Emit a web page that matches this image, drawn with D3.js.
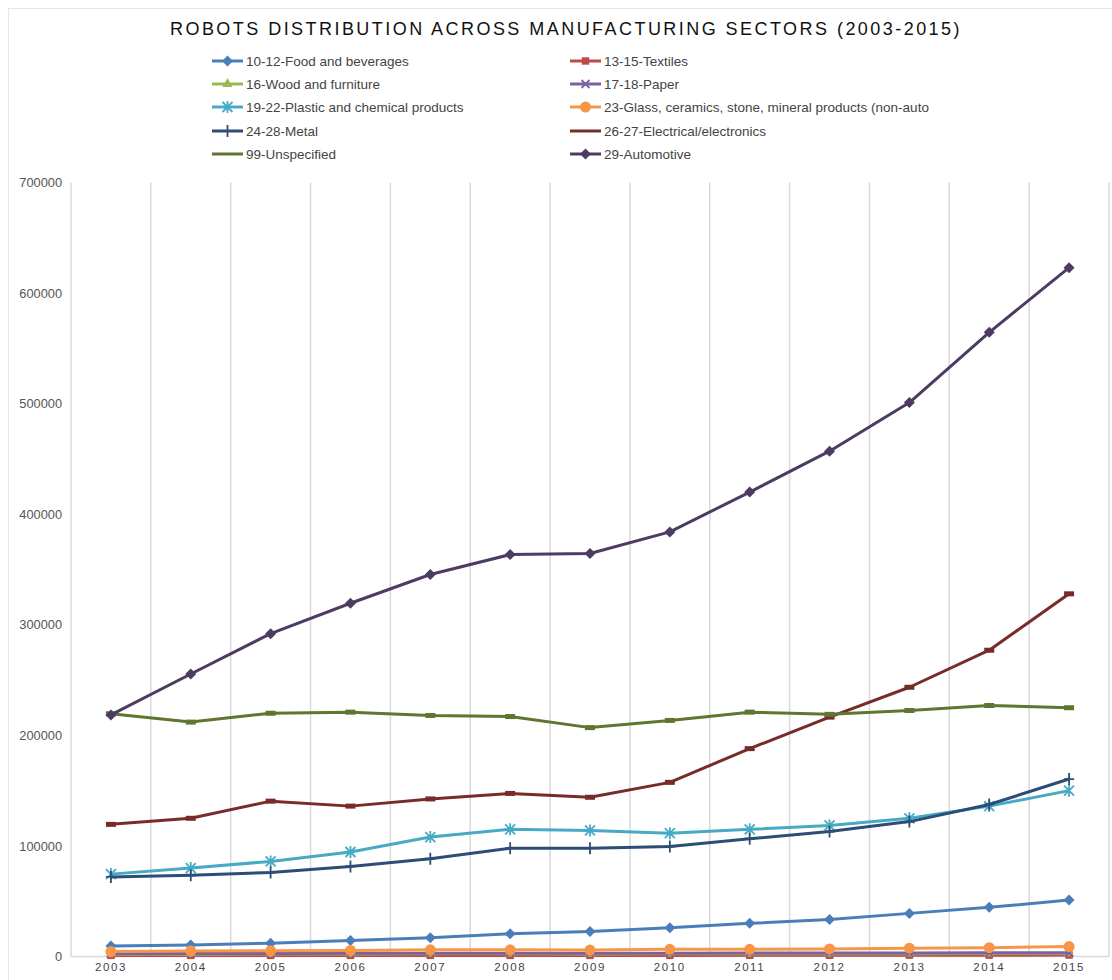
<!DOCTYPE html>
<html>
<head>
<meta charset="utf-8">
<script src="https://cdn.jsdelivr.net/npm/d3@7"></script>
<style>
  body { margin: 0; background: #fff; }
  svg { display: block; font-family: "Liberation Sans", Arial, sans-serif; }
</style>
</head>
<body>
<svg id="chart" width="1112" height="980"></svg>
<script>
const years = ['2003','2004','2005','2006','2007','2008','2009','2010','2011','2012','2013','2014','2015']
const yTicks = [0, 100000, 200000, 300000, 400000, 500000, 600000, 700000]

const food = [9500, 10500, 12000, 14500, 17000, 20500, 22500, 26000, 30000, 33500, 39000, 44500, 51000]
const textiles = [1000, 1000, 1000, 1000, 1000, 1000, 1000, 1000, 1100, 1100, 1200, 1200, 1300]
const wood = [2000, 2100, 2200, 2300, 2400, 2400, 2300, 2400, 2500, 2500, 2600, 2700, 2800]
const paper = [2600, 2700, 2800, 2900, 3000, 3000, 2900, 3000, 3100, 3100, 3200, 3300, 3400]
const plastic = [74500, 80000, 86000, 94500, 108000, 115000, 114000, 111500, 115000, 118500, 125000, 136000, 150000]
const glass = [4500, 5000, 5200, 5500, 6000, 6000, 5800, 6500, 6500, 6800, 7500, 8000, 9000]
const metal = [72000, 73500, 76000, 81500, 88500, 98000, 98000, 99500, 106500, 113000, 122000, 137500, 160500]
const electrical = [119500, 125000, 140500, 136000, 142500, 147500, 144000, 157500, 188000, 216500, 243500, 277000, 328000]
const unspecified = [219500, 212000, 220000, 221000, 218000, 217000, 207000, 213500, 221000, 219000, 222500, 227000, 225000]
const automotive = [218500, 255500, 292000, 319500, 345500, 363500, 364500, 384000, 420000, 457000, 501000, 564500, 623000]

const series = [
  { name: '10-12-Food and beverages', values: food, color: '#4a7ebb', marker: 'diamond' },
  { name: '13-15-Textiles', values: textiles, color: '#be4b48', marker: 'square' },
  { name: '16-Wood and furniture', values: wood, color: '#98b954', marker: 'triangle' },
  { name: '17-18-Paper', values: paper, color: '#7d60a0', marker: 'x' },
  { name: '19-22-Plastic and chemical products', values: plastic, color: '#46aac5', marker: 'star' },
  { name: '23-Glass, ceramics, stone, mineral products (non-auto', values: glass, color: '#f79646', marker: 'circle' },
  { name: '24-28-Metal', values: metal, color: '#2c4d75', marker: 'plus' },
  { name: '26-27-Electrical/electronics', values: electrical, color: '#772c2a', marker: 'dash' },
  { name: '99-Unspecified', values: unspecified, color: '#5f7530', marker: 'dash' },
  { name: '29-Automotive', values: automotive, color: '#4d3b62', marker: 'diamond' }
]

const svg = d3.select('#chart')
const plot = { left: 71, right: 1109, top: 182.5, bottom: 956.5 }

// outer frame
svg.append('rect')
  .attr('x', 8.5).attr('y', 8.5)
  .attr('width', 1110).attr('height', 980)
  .attr('fill', 'none').attr('stroke', '#e6e6e6')

const x = d3.scaleBand().domain(years).range([plot.left, plot.right])
const y = d3.scaleLinear().domain([0, 700000]).range([plot.bottom, plot.top])
const cx = d => x(d) + x.bandwidth() / 2

// title, spread to the reference width
const title = svg.append('text')
  .attr('x', 566).attr('y', 35)
  .attr('text-anchor', 'middle')
  .attr('font-size', 18).attr('fill', '#111')
  .text('ROBOTS DISTRIBUTION ACROSS MANUFACTURING SECTORS (2003-2015)')
const tl = title.node().getComputedTextLength()
const nChars = title.text().length
title.attr('letter-spacing', Math.max(0, (792 - tl) / nChars))

// vertical grid lines on category edges
const edges = years.map(d => x(d)).concat([plot.right])
svg.append('g').selectAll('line').data(edges).join('line')
  .attr('x1', d => d).attr('x2', d => d)
  .attr('y1', plot.top).attr('y2', plot.bottom)
  .attr('stroke', '#d9d9d9').attr('stroke-width', 1.5)

svg.append('line')
  .attr('x1', plot.left).attr('x2', plot.right)
  .attr('y1', plot.bottom).attr('y2', plot.bottom)
  .attr('stroke', '#d9d9d9').attr('stroke-width', 1.5)

// y axis labels
const yAxis = svg.append('g')
  .attr('transform', `translate(${plot.left},0)`)
  .call(d3.axisLeft(y).tickValues(yTicks).tickSize(0).tickPadding(9).tickFormat(d3.format('d')))
yAxis.select('.domain').remove()
yAxis.selectAll('text').attr('font-size', 12.8).attr('fill', '#555').attr('font-family', '"Liberation Sans", Arial, sans-serif')

// x axis labels
const xAxis = svg.append('g')
  .attr('transform', `translate(0,${plot.bottom})`)
  .call(d3.axisBottom(x).tickSize(0).tickPadding(6))
xAxis.select('.domain').remove()
xAxis.selectAll('text').attr('font-size', 11.5).attr('fill', '#444')
  .attr('letter-spacing', 1.6).attr('font-family', '"Liberation Sans", Arial, sans-serif')

function drawMarker(g, type, color) {
  if (type === 'diamond') {
    g.append('path').attr('d', 'M0,-5.5L5.5,0L0,5.5L-5.5,0Z').attr('fill', color)
  } else if (type === 'square') {
    g.append('path').attr('d', d3.symbol(d3.symbolSquare, 55)()).attr('fill', color)
  } else if (type === 'triangle') {
    g.append('path').attr('d', d3.symbol(d3.symbolTriangle, 45)()).attr('fill', color)
  } else if (type === 'circle') {
    g.append('circle').attr('r', 5.5).attr('fill', color)
  } else if (type === 'x') {
    g.append('path').attr('d', 'M-4,-4L4,4M-4,4L4,-4').attr('stroke', color).attr('stroke-width', 1.8)
  } else if (type === 'star') {
    g.append('path').attr('d', 'M-5,-5L5,5M-5,5L5,-5M0,-6V6').attr('stroke', color).attr('stroke-width', 1.8)
  } else if (type === 'plus') {
    g.append('path').attr('d', 'M0,-6V6M-5,0H5').attr('stroke', color).attr('stroke-width', 1.8)
  } else if (type === 'dash') {
    g.append('rect').attr('x', -5).attr('y', -2.5).attr('width', 10).attr('height', 5).attr('fill', color)
  }
}

const line = d3.line().x((d, i) => cx(years[i])).y(d => y(d))

series.forEach(s => {
  const g = svg.append('g')
  g.append('path').datum(s.values)
    .attr('d', line)
    .attr('fill', 'none').attr('stroke', s.color)
    .attr('stroke-width', 3).attr('stroke-linejoin', 'round')
  s.values.forEach((v, i) => {
    const m = g.append('g').attr('transform', `translate(${cx(years[i])},${y(v)})`)
    drawMarker(m, s.marker, s.color)
  })
})

// legend, two columns
const legendCols = [212, 570]
const legendRows = [61, 84, 107, 131, 154]
series.forEach((s, k) => {
  const lx = legendCols[k % 2]
  const ly = legendRows[Math.floor(k / 2)]
  const g = svg.append('g').attr('transform', `translate(${lx},${ly})`)
  g.append('line').attr('x1', 0).attr('x2', 31).attr('y1', 0).attr('y2', 0)
    .attr('stroke', s.color).attr('stroke-width', 3)
  if (s.marker !== 'dash') {
    const m = g.append('g').attr('transform', 'translate(15.5,0)')
    drawMarker(m, s.marker, s.color)
  }
  g.append('text').attr('x', 34).attr('y', 4.8)
    .attr('font-size', 13.5).attr('fill', '#444')
    .text(s.name)
})
</script>
</body>
</html>
